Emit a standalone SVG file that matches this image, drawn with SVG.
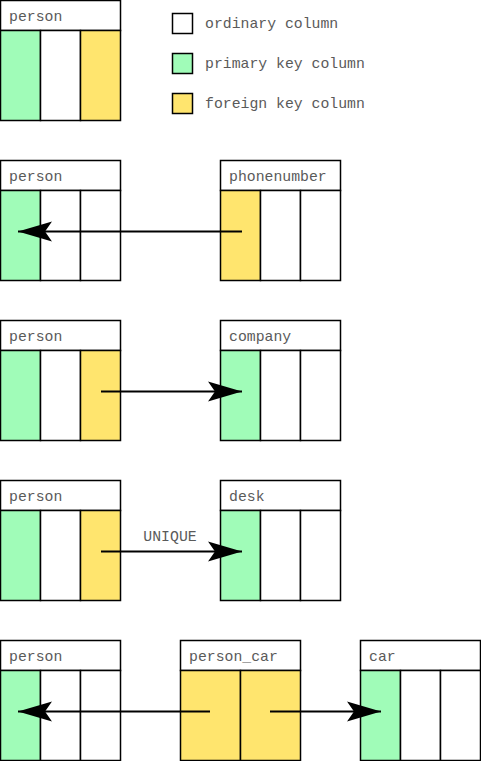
<svg xmlns="http://www.w3.org/2000/svg" width="481" height="761" viewBox="0 0 481 761">
<style>
.b{stroke:#000;stroke-width:1.5}
.w{fill:#fff}
.g{fill:#a0fcb8}
.y{fill:#ffe56e}
.t{font-family:"Liberation Mono","Courier New",monospace;font-size:14.8px;fill:#5a5a5a}
.c{stroke:#000;stroke-width:2;fill:none}
</style>
<defs>
<marker id="ah" markerUnits="userSpaceOnUse" viewBox="-36 -12 38 24" markerWidth="38" markerHeight="24" refX="0" refY="0" orient="auto">
<path d="M0,0 L-34,-10 L-27,0 L-34,10 Z" fill="#000"/>
</marker>
</defs>
<rect width="481" height="761" fill="#fff"/>

<g id="legend">
<rect class="b w" x="172.5" y="13.5" width="20" height="20"/>
<text class="t" x="205" y="28">ordinary column</text>
<rect class="b g" x="172.5" y="53.5" width="20" height="20"/>
<text class="t" x="205" y="68">primary key column</text>
<rect class="b y" x="172.5" y="93.5" width="20" height="20"/>
<text class="t" x="205" y="108">foreign key column</text>
</g>

<g id="person1">
<rect class="b w" x="0.5" y="0.5" width="120" height="30"/>
<text class="t" x="9" y="21">person</text>
<rect class="b g" x="0.5" y="30.5" width="40" height="90"/>
<rect class="b w" x="40.5" y="30.5" width="40" height="90"/>
<rect class="b y" x="80.5" y="30.5" width="40" height="90"/>
</g>

<g id="person2">
<rect class="b w" x="0.5" y="160.5" width="120" height="30"/>
<text class="t" x="9" y="181">person</text>
<rect class="b g" x="0.5" y="190.5" width="40" height="90"/>
<rect class="b w" x="40.5" y="190.5" width="40" height="90"/>
<rect class="b w" x="80.5" y="190.5" width="40" height="90"/>
</g>

<g id="phonenumber">
<rect class="b w" x="220.5" y="160.5" width="120" height="30"/>
<text class="t" x="229" y="181">phonenumber</text>
<rect class="b y" x="220.5" y="190.5" width="40" height="90"/>
<rect class="b w" x="260.5" y="190.5" width="40" height="90"/>
<rect class="b w" x="300.5" y="190.5" width="40" height="90"/>
</g>

<g id="person3">
<rect class="b w" x="0.5" y="320.5" width="120" height="30"/>
<text class="t" x="9" y="341">person</text>
<rect class="b g" x="0.5" y="350.5" width="40" height="90"/>
<rect class="b w" x="40.5" y="350.5" width="40" height="90"/>
<rect class="b y" x="80.5" y="350.5" width="40" height="90"/>
</g>

<g id="company">
<rect class="b w" x="220.5" y="320.5" width="120" height="30"/>
<text class="t" x="229" y="341">company</text>
<rect class="b g" x="220.5" y="350.5" width="40" height="90"/>
<rect class="b w" x="260.5" y="350.5" width="40" height="90"/>
<rect class="b w" x="300.5" y="350.5" width="40" height="90"/>
</g>

<g id="person4">
<rect class="b w" x="0.5" y="480.5" width="120" height="30"/>
<text class="t" x="9" y="501">person</text>
<rect class="b g" x="0.5" y="510.5" width="40" height="90"/>
<rect class="b w" x="40.5" y="510.5" width="40" height="90"/>
<rect class="b y" x="80.5" y="510.5" width="40" height="90"/>
</g>

<g id="desk">
<rect class="b w" x="220.5" y="480.5" width="120" height="30"/>
<text class="t" x="229" y="501">desk</text>
<rect class="b g" x="220.5" y="510.5" width="40" height="90"/>
<rect class="b w" x="260.5" y="510.5" width="40" height="90"/>
<rect class="b w" x="300.5" y="510.5" width="40" height="90"/>
</g>

<g id="person5">
<rect class="b w" x="0.5" y="640.5" width="120" height="30"/>
<text class="t" x="9" y="661">person</text>
<rect class="b g" x="0.5" y="670.5" width="40" height="90"/>
<rect class="b w" x="40.5" y="670.5" width="40" height="90"/>
<rect class="b w" x="80.5" y="670.5" width="40" height="90"/>
</g>

<g id="person_car">
<rect class="b w" x="180.5" y="640.5" width="120" height="30"/>
<text class="t" x="189" y="661">person_car</text>
<rect class="b y" x="180.5" y="670.5" width="60" height="90"/>
<rect class="b y" x="240.5" y="670.5" width="60" height="90"/>
</g>

<g id="car">
<rect class="b w" x="360.5" y="640.5" width="120" height="30"/>
<text class="t" x="369" y="661">car</text>
<rect class="b g" x="360.5" y="670.5" width="40" height="90"/>
<rect class="b w" x="400.5" y="670.5" width="40" height="90"/>
<rect class="b w" x="440.5" y="670.5" width="40" height="90"/>
</g>

<g id="connectors">
<line class="c" x1="242" y1="231.5" x2="18" y2="231.5" marker-end="url(#ah)"/>
<line class="c" x1="101" y1="391.5" x2="242" y2="391.5" marker-end="url(#ah)"/>
<line class="c" x1="101" y1="551.5" x2="242" y2="551.5" marker-end="url(#ah)"/>
<text class="t" x="170" y="541" text-anchor="middle">UNIQUE</text>
<line class="c" x1="210" y1="711.5" x2="18" y2="711.5" marker-end="url(#ah)"/>
<line class="c" x1="270" y1="711.5" x2="381" y2="711.5" marker-end="url(#ah)"/>
</g>
</svg>
